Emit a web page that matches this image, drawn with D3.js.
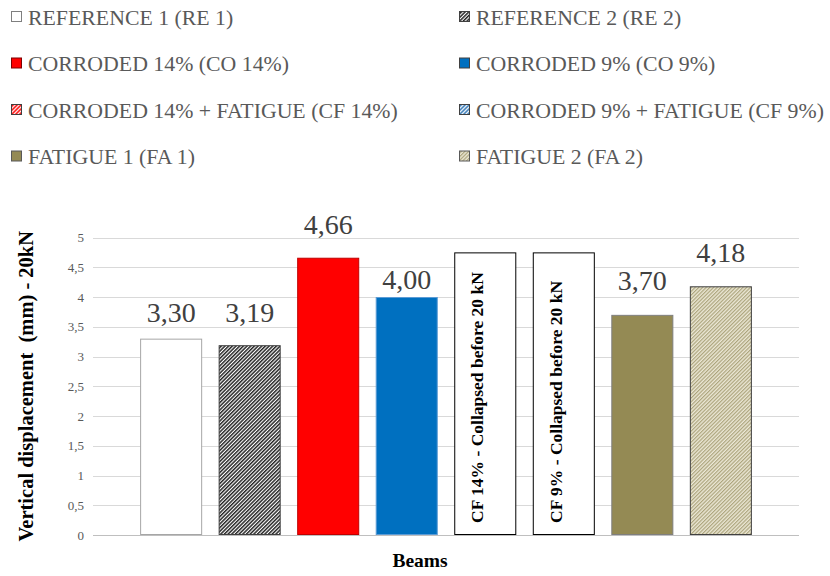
<!DOCTYPE html>
<html>
<head>
<meta charset="utf-8">
<script src="https://cdn.jsdelivr.net/npm/d3@7"></script>
<style>
  html, body { margin: 0; padding: 0; background: #fff; }
  svg { display: block; font-family: "Liberation Serif", "Times New Roman", serif; }
</style>
</head>
<body>
<svg id="chart" width="830" height="576"></svg>
<script>
// Beam identifiers along the category axis
const categories = ["RE 1", "RE 2", "CO 14%", "CO 9%", "CF 14%", "CF 9%", "FA 1", "FA 2"];
// Vertical displacement at 20 kN (mm); null where the beam collapsed earlier
const displacement = [3.30, 3.19, 4.66, 4.00, null, null, 3.70, 4.18];
// Height of the note boxes for beams that collapsed before 20 kN
const collapsedBoxValue = 4.75;
const collapsedNotes = ["", "", "", "", "CF 14% - Collapsed before 20 kN", "CF 9% - Collapsed before 20 kN", "", ""];
// Legend entries (left column, then right column)
const legendLabels = [
  "REFERENCE 1 (RE 1)", "REFERENCE 2 (RE 2)",
  "CORRODED 14% (CO 14%)", "CORRODED 9% (CO 9%)",
  "CORRODED 14% + FATIGUE (CF 14%)", "CORRODED 9% + FATIGUE (CF 9%)",
  "FATIGUE 1 (FA 1)", "FATIGUE 2 (FA 2)"
];
const yTicks = [0, 0.5, 1, 1.5, 2, 2.5, 3, 3.5, 4, 4.5, 5];

// Styling per beam
const fills = ["#ffffff", "url(#hatchRE2)", "#ff0000", "#0070c0", "#ffffff", "#ffffff", "#948a54", "url(#hatchFA2)"];
const strokes = ["#a6a6a6", "#404040", "#c00000", "#5b9bd5", "#000000", "#000000", "#7f7f7f", "#404040"];
const legendFills = ["#ffffff", "url(#hatchRE2)", "#ff0000", "#0070c0", "url(#hatchCF14)", "url(#hatchCF9)", "#948a54", "url(#hatchFA2)"];
const legendStrokes = ["#7f7f7f", "#404040", "#7f0000", "#404040", "#404040", "#404040", "#595959", "#595959"];
// Vertical gap between each bar top and its value label
const labelLift = [17, 23, 24, 8, 0, 0, 25, 24];

const svg = d3.select("#chart");

// Hatch patterns
const defs = svg.append("defs");
function hatch(id, bg, fg, period, stripe) {
  const p = defs.append("pattern")
    .attr("id", id)
    .attr("patternUnits", "userSpaceOnUse")
    .attr("width", period).attr("height", period)
    .attr("patternTransform", "rotate(45)");
  p.append("rect").attr("width", period).attr("height", period).attr("fill", bg);
  p.append("rect").attr("width", stripe).attr("height", period).attr("fill", fg);
}
hatch("hatchRE2", "#ffffff", "#262626", 2.6, 1.5);
hatch("hatchFA2", "#ece8d6", "#aca47c", 2.6, 1.2);
hatch("hatchCF14", "#ffffff", "#ff0000", 2.8, 1.5);
hatch("hatchCF9", "#ffffff", "#2e75b6", 2.8, 1.5);

// Scales
const plot = { left: 93, right: 799, top: 237.5, bottom: 535 };
const x = d3.scaleBand()
  .domain(categories)
  .range([plot.left, plot.right])
  .paddingInner(0.21)
  .paddingOuter(0.6);
const y = d3.scaleLinear().domain([0, 5]).range([plot.bottom, plot.top]);

// Gridlines
svg.append("g")
  .selectAll("line")
  .data(yTicks)
  .join("line")
  .attr("x1", plot.left).attr("x2", plot.right)
  .attr("y1", d => Math.round(y(d)) + 0.5).attr("y2", d => Math.round(y(d)) + 0.5)
  .attr("stroke", d => d === 0 ? "#bfbfbf" : "#d9d9d9")
  .attr("stroke-width", 1);

// Y axis tick labels
const yAxis = d3.axisLeft(y)
  .tickValues(yTicks)
  .tickSize(0)
  .tickPadding(0)
  .tickFormat(d => String(d).replace(".", ","));
svg.append("g")
  .attr("transform", `translate(${plot.left - 9},0)`)
  .call(yAxis)
  .call(g => g.select(".domain").remove())
  .call(g => g.selectAll("text")
    .attr("font-family", "Liberation Serif, serif")
    .attr("font-size", 13)
    .attr("fill", "#595959"));

// Bars with measured values
const rows = categories.map((c, i) => ({ c, i, v: displacement[i] }));
svg.append("g")
  .selectAll("rect")
  .data(rows.filter(d => d.v !== null))
  .join("rect")
  .attr("x", d => x(d.c) + 0.5)
  .attr("y", d => y(d.v) + 0.5)
  .attr("width", x.bandwidth() - 1)
  .attr("height", d => y(0) - y(d.v) - 1)
  .attr("fill", d => fills[d.i])
  .attr("stroke", d => strokes[d.i])
  .attr("stroke-width", 1);

// Note boxes for collapsed beams
const collapsed = rows.filter(d => d.v === null);
svg.append("g")
  .selectAll("rect")
  .data(collapsed)
  .join("rect")
  .attr("x", d => x(d.c) + 0.5)
  .attr("y", y(collapsedBoxValue) + 0.5)
  .attr("width", x.bandwidth() - 1)
  .attr("height", y(0) - y(collapsedBoxValue) - 1)
  .attr("fill", d => fills[d.i])
  .attr("stroke", d => strokes[d.i])
  .attr("stroke-width", 1);

svg.append("g")
  .selectAll("text")
  .data(collapsed)
  .join("text")
  .attr("transform", d => `translate(${x(d.c) + x.bandwidth() / 2 - 2},${y(0) - 12}) rotate(-90)`)
  .attr("text-anchor", "start")
  .attr("font-size", 17.5)
  .attr("font-weight", "bold")
  .attr("fill", "#000")
  .text(d => collapsedNotes[d.i]);

// Value labels
svg.append("g")
  .selectAll("text")
  .data(rows.filter(d => d.v !== null))
  .join("text")
  .attr("x", d => x(d.c) + x.bandwidth() / 2)
  .attr("y", d => y(d.v) - labelLift[d.i])
  .attr("text-anchor", "middle")
  .attr("font-size", 28)
  .attr("fill", "#404040")
  .text(d => d3.format(".2f")(d.v).replace(".", ","));

// Axis titles
svg.append("text")
  .attr("transform", `translate(33,${(plot.top + plot.bottom) / 2}) rotate(-90)`)
  .attr("text-anchor", "middle")
  .attr("font-size", 20.5)
  .attr("font-weight", "bold")
  .attr("fill", "#000")
  .attr("xml:space", "preserve")
  .style("white-space", "pre")
  .text("Vertical displacement  (mm) - 20kN");

svg.append("text")
  .attr("x", 420)
  .attr("y", 567)
  .attr("text-anchor", "middle")
  .attr("font-size", 19.5)
  .attr("font-weight", "bold")
  .attr("fill", "#000")
  .text("Beams");

// Legend: two columns, four rows
const legendCols = [11, 459];
const legendRows = [17, 63.5, 110, 156.5];
const lg = svg.append("g")
  .selectAll("g")
  .data(legendLabels.map((t, i) => ({ t, i })))
  .join("g")
  .attr("transform", d => `translate(${legendCols[d.i % 2]},${legendRows[Math.floor(d.i / 2)]})`);
lg.append("rect")
  .attr("x", 0.5).attr("y", -5.5)
  .attr("width", 10).attr("height", 10)
  .attr("fill", d => legendFills[d.i])
  .attr("stroke", d => legendStrokes[d.i])
  .attr("stroke-width", 1);
lg.append("text")
  .attr("x", 17)
  .attr("y", 7.5)
  .attr("font-size", 21.8)
  .attr("fill", "#595959")
  .text(d => d.t);
</script>
</body>
</html>
